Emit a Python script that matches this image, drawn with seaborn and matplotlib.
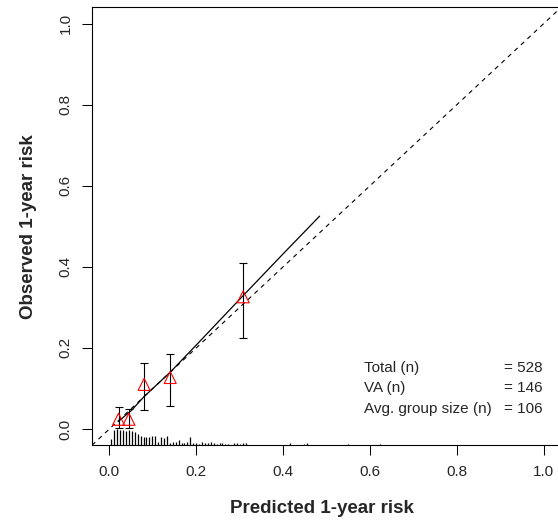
# calibration plot: predicted vs observed 1-year risk
import numpy as np
import pandas as pd
import seaborn as sns
import matplotlib.pyplot as plt

# grouped observed risk with confidence limits
pred = [0.021, 0.045, 0.080, 0.140, 0.308]
obs = [0.024, 0.024, 0.110, 0.127, 0.326]
ci_lo = [0.002, 0.003, 0.046, 0.056, 0.224]
ci_hi = [0.053, 0.049, 0.163, 0.185, 0.410]

# smoothed calibration curve
curve_x = [0.020, 0.050, 0.080, 0.140, 0.200, 0.300, 0.400, 0.484]
curve_y = [0.018, 0.045, 0.080, 0.140, 0.207, 0.320, 0.432, 0.525]

# spike histogram of predicted risk (100 bins)
bin_start = 0.0046
bin_width = 0.00673
bin_counts = [11, 26, 27, 26, 26, 24, 26, 24, 22, 19, 16, 13, 14, 14, 15, 16,
              6, 14, 12, 16, 3, 6, 6, 9, 4, 4, 6, 14, 4, 4, 2,
              6, 3, 3, 6, 4, 2, 3, 3, 2, 2, 0, 4, 3, 2, 4, 3, 1, 1, 1, 1,
              1, 0, 1, 0, 1, 0, 1, 0, 0, 0, 3, 0, 1, 0, 1, 2, 3, 0, 1, 0,
              0, 1, 0, 0, 1, 0, 0, 1, 1, 1, 2, 0, 0, 0, 0, 0, 1, 0, 0, 1,
              0, 2, 0, 0, 0, 0, 0, 0, 1]

ticks = [0.0, 0.2, 0.4, 0.6, 0.8, 1.0]
tick_labels = ["0.0", "0.2", "0.4", "0.6", "0.8", "1.0"]
info_names = ["Total (n)", "VA (n)", "Avg. group size (n)"]
info_values = ["= 528", "= 146", "= 106"]

sns.set_style("ticks")
plt.rcParams['font.family'] = ['Liberation Sans', 'DejaVu Sans']

fig = plt.figure(figsize=(5.58, 5.25), dpi=100)
ax = fig.add_axes([0.1649, 0.1520, 0.8408, 0.8341])

# reference diagonal
diag = pd.DataFrame({"x": [-0.04, 1.04], "y": [-0.04, 1.04]})
sns.lineplot(data=diag, x="x", y="y", ax=ax, color="black", lw=0.8,
             linestyle=(0, (4, 4)))

# calibration curve
curve = pd.DataFrame({"x": curve_x, "y": curve_y})
sns.lineplot(data=curve, x="x", y="y", ax=ax, color="black", lw=0.9, sort=False)

# error bars and triangles
obs_arr = np.array(obs)
ax.errorbar(pred, obs, yerr=[obs_arr - np.array(ci_lo), np.array(ci_hi) - obs_arr],
            fmt="none", ecolor="black", elinewidth=0.8, capsize=3, capthick=0.8)
groups = pd.DataFrame({"pred": pred, "obs": obs})
sns.scatterplot(data=groups, x="pred", y="obs", ax=ax, marker="^", s=75,
                facecolor="none", edgecolor="red", linewidth=0.8, zorder=5)

# spike histogram along the bottom
centers = bin_start + bin_width * np.arange(len(bin_counts))
counts = np.array(bin_counts, dtype=float)
heights = counts / counts.max() * 0.040
keep = counts > 0
ax.vlines(centers[keep], -0.04, -0.04 + heights[keep], color="black", lw=0.9)

# text block
for i in range(len(info_names)):
    ax.text(0.585, 0.15 - i * 0.05, info_names[i], fontsize=11, va="center", ha="left")
    ax.text(0.997, 0.15 - i * 0.05, info_values[i], fontsize=11, va="center", ha="right")

ax.set_xlim(-0.04, 1.04)
ax.set_ylim(-0.04, 1.04)
ax.set_xticks(ticks)
ax.set_xticklabels(tick_labels)
ax.set_yticks(ticks)
ax.set_yticklabels(tick_labels, rotation=90, va="center")
ax.tick_params(axis="both", length=7, width=0.75, pad=7, labelsize=11, color="black")
for s in ax.spines.values():
    s.set_visible(True)
    s.set_linewidth(0.8)
    s.set_color("black")

ax.set_xlabel("Predicted 1-year risk", fontsize=13.5, fontweight="bold")
ax.set_ylabel("Observed 1-year risk", fontsize=13.5, fontweight="bold")
ax.xaxis.set_label_coords(0.49, -0.125)
ax.yaxis.set_label_coords(-0.118, 0.5)

plt.savefig("out.png", dpi=100)
